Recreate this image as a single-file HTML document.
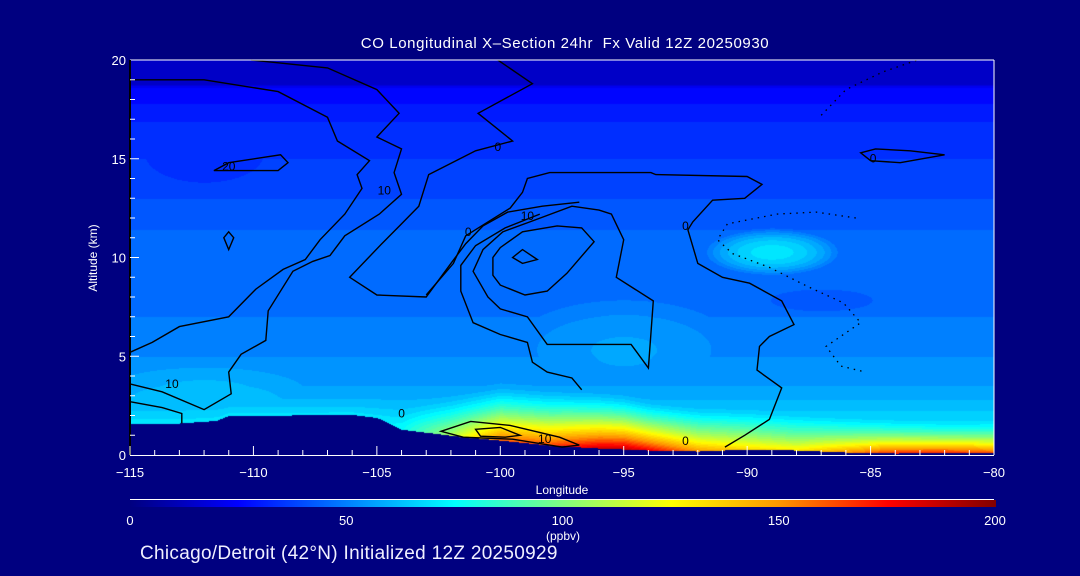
<!DOCTYPE html>
<html><head><meta charset="utf-8">
<style>
html,body{margin:0;padding:0;background:#000080;}
#root{position:relative;width:1080px;height:576px;background:#000080;overflow:hidden;font-family:"Liberation Sans",sans-serif;color:#fff;}
.t{position:absolute;white-space:nowrap;}
</style></head>
<body>
<div id="root">
<div class="t" style="left:0;width:1130px;text-align:center;top:35px;font-size:15px;letter-spacing:0.6px;">CO Longitudinal X&#8211;Section 24hr&nbsp; Fx Valid 12Z 20250930</div>
<canvas id="field" width="864" height="395" style="position:absolute;left:130px;top:60px;"></canvas>
<svg id="ov" width="1080" height="576" style="position:absolute;left:0;top:0;"></svg>
<div class="t" style="left:93px;top:258px;font-size:12px;transform:translate(-50%,-50%) rotate(-90deg);">Altitude (km)</div>
<div class="t" style="left:562px;top:483px;font-size:12px;transform:translateX(-50%);">Longitude</div>
<div class="t" style="left:563px;top:529px;font-size:12px;transform:translateX(-50%);">(ppbv)</div>
<div class="t" style="left:140px;top:543px;font-size:19px;color:#f0f0ff;letter-spacing:0.3px;">Chicago/Detroit (42°N) Initialized 12Z 20250929</div>
</div>
<script>
// ---- data ----
const bgAlt = [0, 1.5, 2.5, 3.5, 5, 7, 9, 11, 13, 15, 16.5, 17.5, 18.6, 18.8, 20];
const bgVal = [72, 70, 62, 56, 52, 48, 46, 45, 40, 36, 34, 29, 25, 14, 14];
const terrainLon = [-115,-113,-111.5,-111,-106,-105,-104,-103,-102,-100,-98,-96,-94,-92,-90,-88,-86,-84,-82,-80];
const terrainAlt = [1.62,1.62,1.75,2.0,2.05,1.9,1.3,1.15,1.0,0.75,0.5,0.35,0.25,0.2,0.3,0.25,0.15,0.1,0.12,0.15];
const plumeLon = [-115,-105,-104,-102,-100,-98,-96,-95,-94,-92,-90,-88,-86,-84,-82,-80];
const plumeVal = [70,70,75,110,160,165,185,188,178,150,135,130,150,170,170,160];
const plumeDepth = [1,1,1.4,2.2,3.0,3.0,3.0,2.9,2.6,2.3,2.1,1.9,1.8,1.7,1.6,1.6];
const blobs = [[-89,10.3,25,2.8,1.2],[-87,7.8,-6,3,0.8],[-95,6,6,4,2],[-112,3.6,5,4,1.2],[-112,14.5,-3,2.5,1.5]];
const xTicks = [-115,-110,-105,-100,-95,-90,-85,-80];
const yTicks = [0,5,10,15,20];
const cbTicks = [0,50,100,150,200];
const contours = [
 {solid:true, pts:[[-115,19.0],[-112,19.0],[-109,18.4],[-107,17.1],[-106.6,15.9],[-105.3,14.9],[-105.8,14.2],[-105.6,13.5],[-106.3,12.2],[-107.3,10.9],[-107.9,9.9],[-108.8,9.4],[-109.9,8.4],[-111,7.0],[-113,6.5],[-114.1,5.7],[-115,5.2]]},
 {solid:true, pts:[[-110.1,20],[-107,19.6],[-105,18.5],[-104.1,17.3],[-105,16.1],[-104,15.5],[-104.3,14.3],[-104,13.2],[-104.9,12.2],[-106.3,11.1],[-106.9,10.1],[-107.6,9.8],[-108.4,9.3],[-109.4,7.3],[-109.5,5.8],[-110.5,5.1],[-111,4.2],[-110.9,3.1],[-112,2.3],[-113.7,3.2],[-115,3.6]]},
 {solid:true, pts:[[-100.1,20],[-98.7,18.8],[-100.9,17.3],[-99.5,15.9],[-101,15.4],[-102.9,14.2],[-103.3,12.6],[-104,11.7],[-104.8,10.7],[-106.1,9.0],[-105,8.1],[-103,8.0],[-102,9.7],[-101.4,10.7],[-100.7,11.6],[-99.7,12.3],[-98.3,12.6],[-96.8,12.8]]},
 {solid:true, pts:[[-103,8.1],[-101.9,9.7],[-101.4,11.1],[-99.6,12.5],[-99.1,13.3],[-98.9,14.0],[-98,14.3],[-93.9,14.3],[-93.7,14.2],[-90,14.1],[-89.4,13.7],[-90.1,13.0],[-91.4,12.9],[-92.2,11.8],[-92.4,11.4],[-92,9.7],[-91,9.0],[-89.9,8.7],[-88.6,7.8],[-88.1,6.6],[-89.1,6.0],[-89.5,5.5],[-89.6,4.3],[-88.6,3.4],[-89.1,1.8],[-90.1,1.0],[-90.9,0.4]]},
 {solid:true, closed:true, pts:[[-101.1,9.3],[-100.5,8.0],[-100,7.4],[-98.9,7.0],[-98.1,5.6],[-94.7,5.6],[-94,4.4],[-93.8,7.8],[-95.3,9.0],[-95,10.9],[-95.5,12.2],[-96,12.4],[-97.1,12.6],[-98.8,11.8],[-99.9,11.3],[-100.7,10.4]]},
 {solid:true, closed:true, pts:[[-100.3,10.0],[-100.3,9.1],[-100,8.6],[-99,8.1],[-98.1,8.3],[-97.3,9.2],[-96.2,10.8],[-96.7,11.5],[-97.7,11.6],[-99.1,11.3],[-100,10.5]]},
 {solid:true, closed:true, pts:[[-99.5,10],[-99.1,10.4],[-98.5,9.9],[-99.1,9.7]]},
 {solid:true, pts:[[-96.7,3.3],[-97.1,3.9],[-98.1,4.2],[-98.7,4.7],[-98.9,5.7],[-100,6.1],[-101.1,6.7],[-101.6,8.3],[-101.6,9.6],[-101,10.6],[-99.8,11.5],[-98.4,12.2]]},
 {solid:true, closed:true, pts:[[-111.6,14.4],[-111,14.8],[-108.9,15.2],[-108.6,14.8],[-109,14.4]]},
 {solid:true, closed:true, pts:[[-111,11.3],[-111.2,11.0],[-111,10.4],[-110.8,11.0]]},
 {solid:true, closed:true, pts:[[-85.4,15.3],[-84.8,15.5],[-83.4,15.4],[-82,15.2],[-83.8,14.8],[-85,14.9]]},
 {solid:true, pts:[[-115,2.7],[-113.7,2.4],[-112.9,2.1],[-112.9,1.6]]},
 {solid:true, closed:true, pts:[[-102.4,1.2],[-101.2,1.7],[-99.6,1.5],[-97.6,0.9],[-96.8,0.5],[-97.5,0.4],[-99.5,0.8],[-101.5,0.9]]},
 {solid:true, closed:true, pts:[[-101,1.3],[-100,1.4],[-99.2,1.0],[-99.8,0.9],[-100.8,0.95]]},
 {solid:false, pts:[[-85.6,12.0],[-87.2,12.3],[-88.8,12.2],[-90.8,11.7],[-91.2,10.9],[-90.6,10.2],[-89.1,9.5],[-87.5,8.5],[-86.1,7.7],[-85.4,6.7],[-86.8,5.5],[-86.2,4.5],[-85.2,4.2]]},
 {solid:false, pts:[[-87,17.2],[-86,18.5],[-84.5,19.4],[-83.1,20]]}
];
const contourLabels = [[-111,14.4,'20'],[-104.7,13.2,'10'],[-100.1,15.4,'0'],[-101.3,11.1,'0'],[-98.9,11.9,'10'],[-92.5,11.4,'0'],[-84.9,14.8,'0'],[-113.3,3.4,'10'],[-104,1.9,'0'],[-98.2,0.6,'10'],[-92.5,0.5,'0']];

// ---- scales ----
const X0=130,X1=994,Y0=455,Y1=60;
const sx = lon => X0 + (lon+115)/35*(X1-X0);
const sy = alt => Y0 - alt/20*(Y0-Y1);
function interp(xs, ys, x){
  if(x<=xs[0]) return ys[0];
  for(let i=1;i<xs.length;i++) if(x<=xs[i]){const t=(x-xs[i-1])/(xs[i]-xs[i-1]);return ys[i-1]+t*(ys[i]-ys[i-1]);}
  return ys[ys.length-1];
}
const cmStops=[[0,[0,0,128]],[25,[0,0,255]],[75,[0,255,255]],[100,[128,255,128]],[125,[255,255,0]],[150,[255,150,0]],[175,[255,0,0]],[200,[128,0,0]]];
function cmap(v){
  v=Math.max(0,Math.min(200,v));
  for(let i=1;i<cmStops.length;i++) if(v<=cmStops[i][0]){
    const a=cmStops[i-1],b=cmStops[i],t=(v-a[0])/(b[0]-a[0]);
    return a[1].map((c,k)=>Math.round(c+t*(b[1][k]-c)));
  }
  return cmStops[cmStops.length-1][1];
}
// ---- field ----
const cv=document.getElementById('field'),ctx=cv.getContext('2d');
const W=cv.width,H=cv.height,img=ctx.createImageData(W,H);
for(let px=0;px<W;px++){
  const lon=-115+px/W*35;
  const ter=interp(terrainLon,terrainAlt,lon);
  const pv=interp(plumeLon,plumeVal,lon), pd=interp(plumeLon,plumeDepth,lon);
  for(let py=0;py<H;py++){
    const alt=(H-py)/H*20;
    let c;
    if(alt<ter){c=[0,0,128];}
    else{
      let v=interp(bgAlt,bgVal,alt);
      const h=alt-ter;
      if(h<pd){const bs=interp(bgAlt,bgVal,ter);const f=1-h/pd;v+= (pv-bs)*Math.pow(f,1.6);}
      for(const b of blobs){const dx=(lon-b[0])/b[3],dy=(alt-b[1])/b[4];const d=dx*dx+dy*dy;if(d<1)v+=b[2]*(1-d);}
      v=Math.floor(v/4)*4+2;
      c=cmap(v);
    }
    const i=(py*W+px)*4;img.data[i]=c[0];img.data[i+1]=c[1];img.data[i+2]=c[2];img.data[i+3]=255;
  }
}
ctx.putImageData(img,0,0);
// ---- overlay ----
const NS='http://www.w3.org/2000/svg',svg=document.getElementById('ov');
function mk(tag,attrs){const e=document.createElementNS(NS,tag);for(const k in attrs)e.setAttribute(k,attrs[k]);svg.appendChild(e);return e;}
contours.forEach((c,ci)=>{
  const d=c.pts.map((p,i)=>(i?'L':'M')+sx(p[0]).toFixed(1)+','+sy(p[1]).toFixed(1)).join('')+(c.closed?'Z':'');
  const e=mk('path',{d:d,fill:'none',stroke:'#000','stroke-width':c.solid?1.4:1.3,'stroke-dasharray':c.solid?'none':'1.5,5'});
  
  
});
contourLabels.forEach(l=>{
  const e=mk('text',{x:sx(l[0]),y:sy(l[1]),fill:'#000','font-size':12,'font-family':'Liberation Sans, sans-serif','text-anchor':'middle'});
  e.textContent=l[2];
  
  
});
// frame
let f=mk('line',{x1:X0,y1:Y1,x2:X1,y2:Y1,stroke:'#fff','stroke-width':1});


f=mk('line',{x1:X1,y1:Y1,x2:X1,y2:Y0,stroke:'#fff','stroke-width':1});


f=mk('line',{x1:X0,y1:Y0+0.5,x2:X1,y2:Y0+0.5,stroke:'#fff','stroke-width':1});


f=mk('line',{x1:X0,y1:Y1,x2:X0,y2:Y0,stroke:'#000','stroke-width':2});


for(let lon=-115;lon<=-80;lon++){
  const major=(lon%5===0);
  const e=mk('line',{x1:sx(lon),y1:Y0,x2:sx(lon),y2:Y0-(major?9:5),stroke:'#fff','stroke-width':1});
  
  
}
xTicks.forEach(v=>{
  const e=mk('text',{x:sx(v),y:477,fill:'#fff','font-size':13,'font-family':'Liberation Sans, sans-serif','text-anchor':'middle'});
  e.textContent=(v<0?'\u2212'+(-v):v);
  
  
});
yTicks.forEach(v=>{
  const e=mk('text',{x:126,y:sy(v)+5,fill:'#fff','font-size':13,'font-family':'Liberation Sans, sans-serif','text-anchor':'end'});
  e.textContent=v;
  
  
});
for(let a=1;a<20;a++){
  const e=mk('line',{x1:X0,y1:sy(a),x2:X0+(a%5===0?9:5),y2:sy(a),stroke:'#fff','stroke-width':1});
  
  
}
// colorbar
const defs=mk('defs',{});
const grad=document.createElementNS(NS,'linearGradient');grad.setAttribute('id','cbg');defs.appendChild(grad);
cmStops.forEach(s=>{const st=document.createElementNS(NS,'stop');st.setAttribute('offset',(s[0]/200*100)+'%');st.setAttribute('stop-color','rgb('+s[1].join(',')+')');grad.appendChild(st);});
let cb=mk('line',{x1:130,y1:499.5,x2:994,y2:499.5,stroke:'#fff','stroke-width':1});


cb=mk('rect',{x:130,y:500,width:866,height:7,fill:'url(#cbg)'});


cbTicks.forEach(v=>{
  const e=mk('text',{x:130+v/200*865,y:525,fill:'#fff','font-size':13,'font-family':'Liberation Sans, sans-serif','text-anchor':'middle'});
  e.textContent=v;
  
  
});
</script>
</body></html>
